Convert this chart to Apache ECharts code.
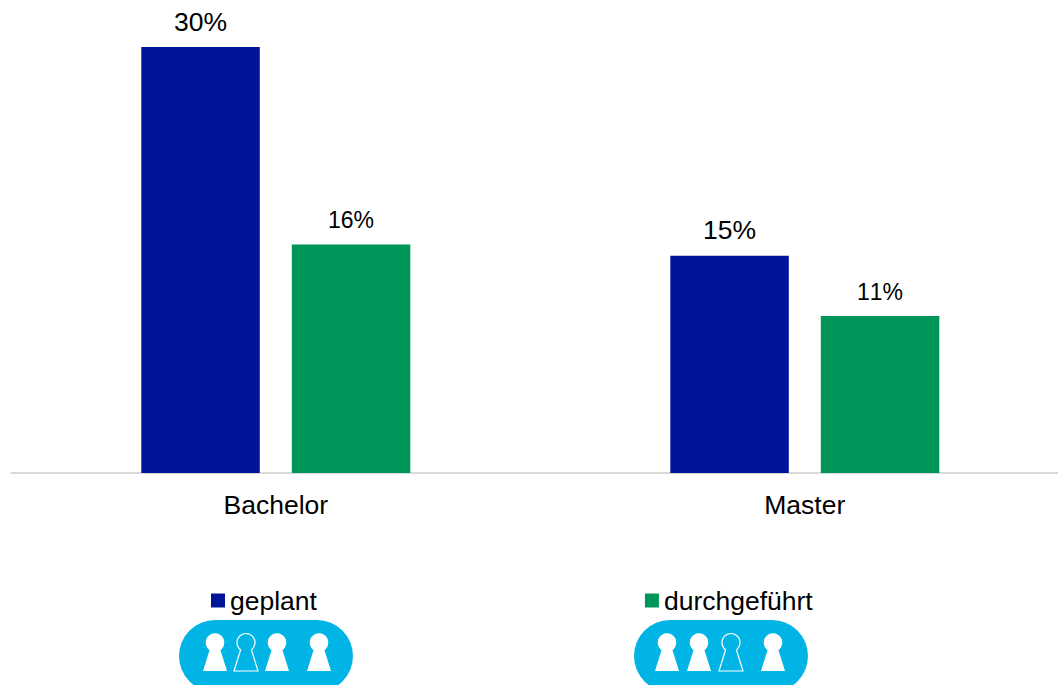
<!DOCTYPE html>
<html>
<head>
<meta charset="utf-8">
<style>
html, body { margin: 0; padding: 0; background: #fff; overflow: hidden; }
#chart { width: 1058px; height: 685px; }
#chart text { font-kerning: none; }
</style>
<script src="https://cdn.jsdelivr.net/npm/echarts@6/dist/echarts.min.js"></script>
</head>
<body>
<div id="chart"></div>
<script>
var categories = ['Bachelor', 'Master'];
var geplant = [30, 15.3];
var durchgefuehrt = [16.1, 11.05];
var seriesNames = ['geplant', 'durchgeführt'];
// the bigger labels sit on the blue bars, the smaller ones on the green bars
var labelSizes = [26.5, 23];
var labelGaps = [12, 13];
var colors = ['#00149B', '#00965A'];

// key pills under the legend: left edge of pill, x of each keyhole, which one is hollow
var pillLefts = [179, 634];
var keyholes = [[215, 246, 277, 319], [667, 699, 731, 773]];
var hollow = [1, 2];

// one keyhole, drawn around the centre of its round head
function keyhole(x, isHollow) {
    var foot = [[5.3, 7], [12, 28.5], [-12, 28.5], [-5.3, 7]];
    var children;
    if (isHollow) {
        children = [
            { type: 'arc', shape: { cx: 0, cy: 0, r: 9, startAngle: 2.22, endAngle: 7.2 },
              style: { fill: 'none', stroke: '#fff', lineWidth: 1.2 } },
            { type: 'polyline', shape: { points: foot },
              style: { fill: 'none', stroke: '#fff', lineWidth: 1.2 } }
        ];
    } else {
        children = [
            { type: 'circle', shape: { cx: 0, cy: 0, r: 9.3 }, style: { fill: '#fff' } },
            { type: 'polygon', shape: { points: foot }, style: { fill: '#fff' } }
        ];
    }
    return { type: 'group', x: x, y: 642.5, children: children };
}

function buildPills() {
    var els = [];
    pillLefts.forEach(function (left, p) {
        els.push({
            type: 'rect',
            shape: { x: left, y: 620, width: 174, height: 72, r: 36 },
            style: { fill: '#00B5E6' }
        });
        keyholes[p].forEach(function (x, k) {
            els.push(keyhole(x, hollow[p] === k));
        });
    });
    return els;
}

function barSeries(name, values, color, size, gap) {
    return {
        name: name,
        type: 'bar',
        data: values,
        barWidth: 118.5,
        barGap: '27%',
        itemStyle: { color: color },
        label: {
            show: true,
            position: 'top',
            distance: gap,
            color: '#000',
            fontSize: size,
            fontFamily: 'Liberation Sans',
            formatter: function (p) {
                return Math.round(p.value) + '%';
            }
        }
    };
}

var myChart = echarts.init(document.getElementById('chart'), null, { renderer: 'svg' });
myChart.setOption({
    animation: false,
    backgroundColor: '#fff',
    grid: { left: 11.3, top: 47, width: 1058, height: 426, outerBoundsMode: 'none' },
    legend: {
        left: 211,
        top: 587,
        padding: 0,
        itemWidth: 14,
        itemHeight: 14,
        itemGap: 328,
        icon: 'rect',
        selectedMode: false,
        textStyle: {
            color: '#000',
            fontSize: 26.5,
            fontFamily: 'Liberation Sans'
        },
        data: seriesNames
    },
    xAxis: {
        type: 'category',
        data: categories,
        axisTick: { show: false },
        axisLine: { lineStyle: { color: '#D9D9D9', width: 2 } },
        axisLabel: {
            color: '#000',
            fontSize: 26.5,
            fontFamily: 'Liberation Sans',
            margin: 18
        }
    },
    yAxis: { type: 'value', min: 0, max: 30, show: false },
    series: [
        barSeries(seriesNames[0], geplant, colors[0], labelSizes[0], labelGaps[0]),
        barSeries(seriesNames[1], durchgefuehrt, colors[1], labelSizes[1], labelGaps[1])
    ],
    graphic: { elements: buildPills() }
});
</script>
</body>
</html>
